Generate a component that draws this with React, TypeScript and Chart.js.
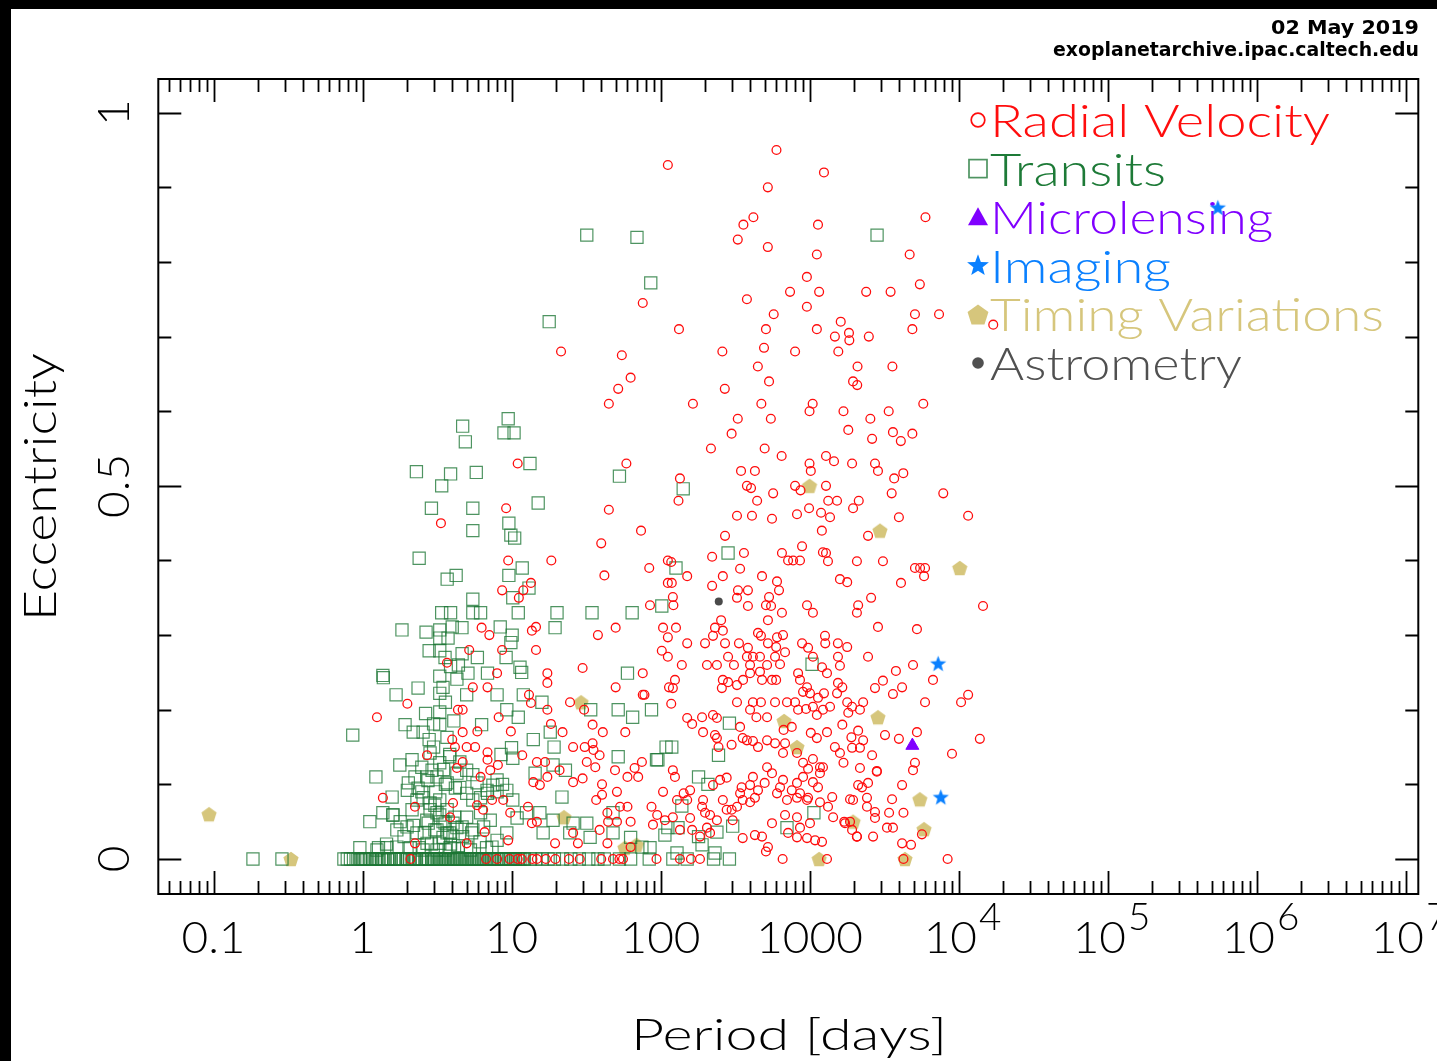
import React, { useEffect, useRef } from 'react';
import { Chart, registerables } from 'chart.js';

Chart.register(...registerables);

// ---------------- data (period [days], eccentricity) ----------------
const radialVelocity: [number, number][] = [
  [112, 0.93], [600, 0.95], [1250, 0.92], [525, 0.90], [6000, 0.86], [360, 0.85], [420, 0.86], [1140, 0.85],
  [330, 0.83], [525, 0.82], [1120, 0.81], [4700, 0.81], [960, 0.78], [740, 0.76], [1160, 0.76], [2400, 0.76],
  [3500, 0.76], [5500, 0.77], [380, 0.75], [960, 0.74], [575, 0.73], [5100, 0.73], [7400, 0.73], [133, 0.71],
  [510, 0.71], [1120, 0.71], [1620, 0.72], [1480, 0.70], [1840, 0.705], [1850, 0.695], [2500, 0.70], [4900, 0.71],
  [260, 0.68], [495, 0.685], [800, 0.68], [1560, 0.68], [450, 0.66], [2100, 0.66], [3600, 0.66], [270, 0.63],
  [535, 0.64], [1960, 0.64], [2090, 0.635], [165, 0.61], [475, 0.61], [1050, 0.61], [1000, 0.60], [1690, 0.60],
  [3400, 0.60], [5800, 0.61], [330, 0.59], [550, 0.59], [2560, 0.59], [300, 0.57], [1820, 0.575], [2630, 0.563],
  [3630, 0.572], [4100, 0.56], [4900, 0.57], [218, 0.55], [500, 0.55], [650, 0.54], [1290, 0.54], [1460, 0.533],
  [1000, 0.53], [1020, 0.52], [1930, 0.53], [2750, 0.53], [2880, 0.52], [347, 0.52], [430, 0.52], [4260, 0.517],
  [3700, 0.51], [135, 0.51], [380, 0.50], [405, 0.497], [800, 0.50], [1290, 0.50], [570, 0.49], [870, 0.494],
  [3560, 0.49], [7900, 0.49], [445, 0.48], [1335, 0.48], [1530, 0.48], [2140, 0.48], [76, 0.745], [17100, 0.716],
  [21.5, 0.68], [55, 0.675], [63, 0.645], [52, 0.63], [45, 0.61], [59, 0.53], [132, 0.48], [45, 0.468],
  [74, 0.44], [40, 0.423], [18.5, 0.40],
  [11, 0.53], [9.2, 0.47], [3.36, 0.45], [42, 0.38], [9.5, 0.40], [84, 0.39], [112, 0.40], [13.5, 0.37],
  [12, 0.36], [11.2, 0.35], [8.65, 0.36], [85, 0.34], [112, 0.37], [6.3, 0.31], [7.1, 0.30], [13.7, 0.306],
  [14.6, 0.311], [14.6, 0.28], [8.65, 0.28], [5.2, 0.28], [3.69, 0.263], [38, 0.30], [50, 0.31], [30, 0.256],
  [8, 0.249], [17.4, 0.249], [17.4, 0.236], [5.5, 0.23], [6.9, 0.23], [2.0, 0.208], [1.25, 0.19], [4.37, 0.20],
  [4.7, 0.20], [8.2, 0.19], [13.1, 0.22], [13.5, 0.209], [17.4, 0.20], [24.7, 0.21], [30.7, 0.20], [50, 0.23],
  [76, 0.249], [76, 0.22], [114, 0.23], [18.4, 0.181], [22, 0.17], [35, 0.18], [41, 0.17], [58, 0.17],
  [4.7, 0.17], [5.9, 0.171], [9.9, 0.171], [4.0, 0.16], [4.17, 0.15], [5.0, 0.15], [5.7, 0.15], [6.9, 0.143],
  [2.71, 0.139], [4.7, 0.13], [4.3, 0.122], [6.9, 0.133], [7.2, 0.119], [6.2, 0.11], [8.1, 0.126],
  [11.8, 0.139], [14.8, 0.13], [16.8, 0.13], [21, 0.119], [25.9, 0.15], [31, 0.15], [35, 0.155], [35.5, 0.146],
  [39, 0.139], [32, 0.13], [36.5, 0.123], [49.5, 0.119], [67, 0.122], [70.8, 0.11], [75, 0.13], [60, 0.11],
  [14, 0.103], [15.5, 0.099], [17.4, 0.11], [25.9, 0.103], [30, 0.108], [40.5, 0.10], [51, 0.09], [40.5, 0.086],
  [37, 0.079], [104, 0.09], [87, 0.07], [95, 0.059], [107, 0.052], [89, 0.046], [63, 0.05], [53.5, 0.07],
  [60, 0.07], [44, 0.062], [44.5, 0.05], [51, 0.05], [39, 0.039], [2.25, 0.07], [4.05, 0.075], [3.87, 0.056],
  [5.87, 0.072], [6.45, 0.066], [7.4, 0.079], [8.8, 0.079], [9.8, 0.062], [12.9, 0.07], [14.8, 0.05], [13.7, 0.048],
  [1.37, 0.082], [2.25, 0.021], [6.6, 0.036], [5.0, 0.021], [9.5, 0.025], [19.6, 0.021], [25.9, 0.035], [27.9, 0.021],
  [44, 0.021], [63, 0.016],
  [2.1, 0], [6.75, 0], [8.0, 0], [9.7, 0], [11, 0], [11.7, 0], [13.8, 0], [14.8, 0], [17, 0], [19.7, 0],
  [24.3, 0], [28.7, 0], [40, 0], [48, 0], [53, 0], [56, 0], [94, 0], [135, 0], [160, 0], [184, 0],
  [510, 0.01], [660, 0], [1310, 0], [4270, 0], [8450, 0],
  [326, 0.46], [411, 0.46], [560, 0.456], [824, 0.462], [993, 0.47], [1195, 0.464], [1373, 0.458], [1960, 0.47],
  [3980, 0.458], [11600, 0.46], [271, 0.433], [1210, 0.44], [2470, 0.433], [363, 0.41], [222, 0.405], [118, 0.398],
  [151, 0.379], [342, 0.389], [262, 0.379], [480, 0.379], [653, 0.41], [718, 0.40], [776, 0.40], [863, 0.40],
  [891, 0.419], [1230, 0.411], [1290, 0.41], [1330, 0.399], [2080, 0.399], [3110, 0.399], [5100, 0.39], [5520, 0.39],
  [5960, 0.39], [5870, 0.379], [1600, 0.375], [1790, 0.371], [4110, 0.37], [222, 0.366], [119, 0.37], [605, 0.372],
  [624, 0.36], [331, 0.36], [386, 0.36], [121, 0.351], [122, 0.34], [326, 0.35], [535, 0.351], [510, 0.34],
  [552, 0.339], [386, 0.339], [962, 0.34], [1054, 0.33], [653, 0.33], [2120, 0.34], [2080, 0.33], [2590, 0.35],
  [14600, 0.339], [526, 0.32], [255, 0.32], [2880, 0.311], [5260, 0.308], [104, 0.31], [127, 0.31], [112, 0.297],
  [232, 0.31], [262, 0.306], [225, 0.299], [451, 0.303], [472, 0.299], [605, 0.297], [664, 0.30], [151, 0.289],
  [199, 0.289], [271, 0.289], [336, 0.289], [386, 0.283], [526, 0.289], [597, 0.284], [891, 0.289], [978, 0.283],
  [1270, 0.299], [1275, 0.289], [1550, 0.289], [1790, 0.284], [102, 0.279], [112, 0.271], [139, 0.26], [205, 0.26],
  [239, 0.26], [284, 0.271], [311, 0.26], [380, 0.271], [417, 0.271], [465, 0.271], [399, 0.26], [465, 0.251],
  [519, 0.26], [587, 0.271], [634, 0.261], [685, 0.277], [838, 0.249], [863, 0.24], [962, 0.23], [1054, 0.271],
  [1213, 0.257], [1310, 0.249], [1552, 0.271], [1600, 0.259], [1552, 0.236], [1660, 0.23], [2470, 0.271], [3800, 0.252],
  [4950, 0.26], [6740, 0.24], [3110, 0.239], [2750, 0.229], [3630, 0.221], [4180, 0.23], [5960, 0.21], [10400, 0.21],
  [11600, 0.22], [121, 0.229], [125, 0.24], [118, 0.208], [78, 0.22], [151, 0.189], [190, 0.19], [225, 0.193],
  [239, 0.189], [163, 0.181], [193, 0.17], [232, 0.166], [239, 0.162], [262, 0.24], [284, 0.237], [326, 0.233],
  [358, 0.24], [399, 0.249], [258, 0.229], [417, 0.21], [472, 0.21], [399, 0.20], [440, 0.19], [326, 0.21],
  [480, 0.24], [560, 0.24], [597, 0.24], [519, 0.19], [587, 0.21], [706, 0.21], [800, 0.21], [838, 0.20],
  [948, 0.201], [905, 0.224], [1007, 0.222], [1140, 0.216], [1250, 0.222], [1054, 0.204], [1120, 0.193], [1231, 0.20],
  [1373, 0.204], [1530, 0.222], [1790, 0.21], [1930, 0.204], [2180, 0.20], [2290, 0.21], [1820, 0.196], [2120, 0.172],
  [1910, 0.163], [1660, 0.18], [1310, 0.17], [1020, 0.169], [1120, 0.162], [760, 0.177], [670, 0.173], [342, 0.177],
  [380, 0.159], [356, 0.162], [245, 0.15], [300, 0.153], [417, 0.158], [451, 0.15], [519, 0.159], [587, 0.155],
  [685, 0.155], [664, 0.142], [824, 0.142], [905, 0.129], [1054, 0.134], [1175, 0.123], [978, 0.121], [1480, 0.15],
  [1600, 0.142], [1690, 0.129], [1930, 0.149], [2180, 0.149], [2290, 0.159], [2630, 0.139], [2180, 0.122], [2830, 0.118],
  [3210, 0.166], [3980, 0.161], [5260, 0.17], [9040, 0.141], [13900, 0.161], [5100, 0.129], [4950, 0.119], [4180, 0.099],
  [3580, 0.08], [3420, 0.062], [3310, 0.042], [3630, 0.042], [4270, 0.062], [5680, 0.033], [4180, 0.021], [4800, 0.019],
  [2750, 0.055], [2670, 0.03], [2080, 0.03], [1870, 0.05], [1710, 0.05], [2430, 0.082], [2470, 0.102], [2250, 0.096],
  [2120, 0.099], [1960, 0.079], [2430, 0.07], [2750, 0.063], [2830, 0.117], [1420, 0.083], [1870, 0.08], [1054, 0.103],
  [1140, 0.096], [1175, 0.115], [1231, 0.123], [905, 0.11], [824, 0.102], [760, 0.092], [863, 0.088], [978, 0.082],
  [664, 0.106], [634, 0.096], [605, 0.088], [706, 0.079], [519, 0.123], [560, 0.115], [500, 0.102], [417, 0.11],
  [399, 0.099], [451, 0.092], [430, 0.082], [399, 0.076], [350, 0.096], [342, 0.088], [356, 0.079], [326, 0.07],
  [300, 0.066], [278, 0.109], [251, 0.106], [225, 0.099], [262, 0.079], [193, 0.079], [190, 0.07], [199, 0.062],
  [215, 0.059], [158, 0.092], [143, 0.088], [129, 0.079], [151, 0.079], [121, 0.119], [125, 0.11], [121, 0.056],
  [135, 0.039], [158, 0.055], [163, 0.039], [184, 0.03], [205, 0.042], [215, 0.035], [239, 0.052], [278, 0.066],
  [305, 0.052], [356, 0.028], [430, 0.032], [480, 0.03], [526, 0.016], [560, 0.048], [685, 0.059], [824, 0.056],
  [863, 0.042], [1007, 0.048], [718, 0.035], [824, 0.029], [962, 0.028], [1090, 0.025], [1213, 0.023], [824, 0.082],
  [962, 0.079], [1175, 0.076], [1331, 0.07], [1440, 0.056], [1730, 0.048], [1930, 0.039], [2080, 0.03],
];

const transits: [number, number][] = [
  [32, 0.836], [69.5, 0.833], [86, 0.772], [17.9, 0.72], [2840, 0.836],
  [9.5, 0.59], [4.7, 0.58], [8.9, 0.571], [10.4, 0.571], [4.9, 0.559], [2.3, 0.519], [3.9, 0.516], [3.4, 0.50],
  [5.8, 0.518], [13.3, 0.53], [2.9, 0.47], [5.5, 0.47], [15.1, 0.477], [5.5, 0.44], [9.6, 0.45], [9.9, 0.434],
  [10.5, 0.43], [53, 0.513], [2.4, 0.403], [4.25, 0.38], [3.7, 0.375], [9.6, 0.38], [11.8, 0.39], [13.1, 0.363],
  [10.2, 0.35], [5.5, 0.348], [3.4, 0.33], [3.9, 0.33], [5.5, 0.33], [6.2, 0.33], [11.1, 0.33], [20.2, 0.33],
  [34.7, 0.33], [64.5, 0.33], [102, 0.339], [1.84, 0.307], [2.67, 0.304], [3.3, 0.307], [3.3, 0.296], [3.75, 0.296],
  [4.0, 0.311], [4.65, 0.31], [8.4, 0.311], [10.1, 0.30], [9.9, 0.29], [19.6, 0.31], [2.8, 0.279], [3.3, 0.279],
  [4.66, 0.275], [3.58, 0.27], [9.2, 0.27], [11.4, 0.257], [11.7, 0.25], [1.37, 0.246], [1.38, 0.243], [3.3, 0.245],
  [4.3, 0.241], [5.1, 0.249], [6.9, 0.249], [2.36, 0.229], [3.47, 0.23], [3.3, 0.222], [1.68, 0.22], [5.0, 0.22],
  [8.0, 0.22], [12, 0.22], [16, 0.21], [52, 0.20], [65, 0.19], [87, 0.20], [34, 0.20], [60, 0.249],
  [9.3, 0.20], [11.1, 0.19], [3.3, 0.197], [3.0, 0.181], [3.3, 0.18], [6.3, 0.18], [1.93, 0.18], [0.86, 0.166],
  [2.19, 0.17], [2.55, 0.17], [3.69, 0.163], [14, 0.16], [18.2, 0.17], [19.3, 0.15], [10, 0.149], [8.5, 0.14],
  [10.2, 0.135], [1.78, 0.126], [2.15, 0.133], [2.5, 0.123], [1.23, 0.11], [2.93, 0.119], [3.16, 0.11], [2.25, 0.11],
  [5.0, 0.119], [5.5, 0.113], [8.0, 0.106], [7.5, 0.099], [8.7, 0.10], [14.4, 0.115], [19, 0.126], [23, 0.119],
  [52, 0.137], [94, 0.133], [109, 0.15], [1.12, 0.05], [1.37, 0.062], [1.6, 0.059], [1.7, 0.039], [1.58, 0.083],
  [2.0, 0.092], [2.32, 0.079], [2.15, 0.066], [2.5, 0.09], [2.84, 0.075], [3.3, 0.079], [3.16, 0.062], [3.7, 0.066],
  [2.7, 0.052], [3.47, 0.05], [4.05, 0.048], [3.16, 0.039], [3.47, 0.029], [3.85, 0.035], [4.3, 0.042],
  [5.0, 0.088], [5.5, 0.079], [6.2, 0.082], [6.9, 0.088], [8, 0.09], [9.3, 0.092], [10.2, 0.079],
  [5, 0.056], [6.2, 0.062], [7.2, 0.052], [10.9, 0.055], [12.6, 0.062], [5.5, 0.039], [6.5, 0.043], [9.3, 0.035],
  [8, 0.025], [15.5, 0.062], [19, 0.052], [16.3, 0.035], [25.9, 0.048], [24.6, 0.035], [32, 0.048], [33.7, 0.029],
  [48, 0.035], [63, 0.029], [75, 0.016], [85, 0.015], [21.8, 0.083], [48, 0.062],
  [1.45, 0.02], [1.9, 0.03], [2.4, 0.015], [2.9, 0.02], [3.6, 0.012], [4.4, 0.018], [5.3, 0.012], [6.8, 0.015],
  [1.28, 0.015], [2.2, 0.045], [2.6, 0.035], [3.9, 0.02], [4.7, 0.03], [3.1, 0.09], [3.6, 0.1], [4.2, 0.095],
  [2.75, 0.105], [4.5, 0.13], [3.85, 0.14], [3.0, 0.15], [2.8, 0.16], [3.5, 0.12], [4.1, 0.185], [3.6, 0.21],
  [2.65, 0.195], [4.4, 0.26], [5.9, 0.27], [3.9, 0.258],
  [2.03, 0.102], [2.36, 0.095], [2.55, 0.082], [3.06, 0.072], [3.3, 0.059], [2.76, 0.048], [3.06, 0.039],
  [3.69, 0.035], [4.05, 0.03], [3.3, 0.021], [2.71, 0.021], [2.32, 0.035], [1.99, 0.043], [1.79, 0.05], [1.6, 0.059],
  [2.84, 0.066], [3.58, 0.048], [4.17, 0.056], [4.66, 0.043], [5.4, 0.035], [6.15, 0.023], [7.4, 0.016], [5.0, 0.016],
  [3.87, 0.015], [3.16, 0.012], [2.55, 0.012], [2.09, 0.015], [1.7, 0.016], [1.46, 0.015], [1.25, 0.012], [0.96, 0.015],
  [2.84, 0.142], [3.3, 0.129], [3.85, 0.137], [4.3, 0.115], [2.7, 0.11], [3.7, 0.102], [4.5, 0.096], [5.87, 0.102],
  [6.85, 0.092],
  [284, 0.41], [127, 0.39], [1040, 0.261], [290, 0.182], [245, 0.139], [119, 0.15], [96, 0.133], [180, 0.11],
  [208, 0.1], [139, 0.071], [112, 0.042], [131, 0.042], [107, 0.032], [129, 0.008], [180, 0.03], [190, 0.019],
  [239, 0.036], [232, 0.008], [305, 0.044], [706, 0.042], [1070, 0.062], [142, 0.496],
  [0.184, 0], [0.288, 0], [0.75, 0], [0.79, 0], [0.83, 0], [0.87, 0], [0.93, 0], [0.97, 0], [1.02, 0], [1.07, 0],
  [1.11, 0], [1.17, 0], [1.22, 0], [1.29, 0], [1.34, 0], [1.41, 0], [1.47, 0], [1.55, 0], [1.62, 0], [1.71, 0],
  [1.78, 0], [1.88, 0], [1.97, 0], [2.08, 0], [2.17, 0], [2.29, 0], [2.41, 0], [2.52, 0], [2.66, 0], [2.78, 0],
  [2.92, 0], [3.05, 0], [3.21, 0], [3.38, 0], [3.52, 0], [3.7, 0], [3.88, 0], [4.08, 0], [4.27, 0], [4.5, 0],
  [4.72, 0], [4.98, 0], [5.25, 0], [5.5, 0], [5.8, 0], [6.1, 0], [6.45, 0], [6.85, 0], [7.3, 0], [7.7, 0],
  [8.2, 0], [8.8, 0], [9.3, 0], [9.9, 0], [10.6, 0], [11.4, 0], [12.2, 0], [13.4, 0], [14.5, 0], [16, 0],
  [17.6, 0], [19.4, 0], [22, 0], [25, 0], [28.5, 0], [33, 0], [38, 0], [42, 0], [53, 0], [63, 0],
  [84, 0], [121, 0], [151, 0], [227, 0], [290, 0],
  [0.99, 0], [1.04, 0], [1.14, 0], [1.25, 0], [1.37, 0], [1.5, 0], [1.66, 0], [1.83, 0], [2.01, 0], [2.23, 0],
  [2.47, 0], [2.72, 0], [2.98, 0], [3.13, 0], [3.3, 0], [3.45, 0], [3.6, 0], [3.78, 0], [3.98, 0], [4.17, 0],
  [4.38, 0], [4.6, 0], [4.85, 0], [5.1, 0], [5.4, 0], [5.65, 0], [5.95, 0], [6.3, 0], [6.65, 0], [7.1, 0],
  [7.5, 0], [8.0, 0], [8.5, 0], [9.0, 0], [9.6, 0], [10.3, 0], [11.0, 0], [11.8, 0],
];

const microlensing: [number, number][] = [[4900, 0.152]];
const imaging: [number, number][] = [[550000, 0.872], [7300, 0.261], [7600, 0.082]];
const timingVariations: [number, number][] = [
  [0.0933, 0.06], [0.331, 0.0], [29.3, 0.21], [22.5, 0.056], [57.7, 0.015], [69, 0.019], [1000, 0.50],
  [2970, 0.44], [10200, 0.39], [675, 0.185], [824, 0.15], [2880, 0.19], [5500, 0.08], [5870, 0.04],
  [1960, 0.05], [1160, 0.0], [4370, 0.0],
];
const astrometry: [number, number][] = [[246, 0.345]];

// ---------------- axis labels ----------------
const xTickValues = [0.1, 1, 10, 100, 1000, 1e4, 1e5, 1e6, 1e7];
const xTickBase = ['0.1', '1', '10', '100', '1000', '10', '10', '10', '10'];
const xTickExp = ['', '', '', '', '', '4', '5', '6', '7'];
const yTickValues = [0, 0.5, 1];
const yTickLabels = ['0', '0.5', '1'];
const xTitle = 'Period [days]';
const yTitle = 'Eccentricity';
const dateText = '02 May 2019';
const siteText = 'exoplanetarchive.ipac.caltech.edu';
const legendLabels = ['Radial Velocity', 'Transits', 'Microlensing', 'Imaging', 'Timing Variations', 'Astrometry'];

// ---------------- styles ----------------
const X_MIN = 0.04261;
const X_MAX = 1.218e7;
const Y_MIN = -0.0469;
const Y_MAX = 1.0452;

const RED = '#ff0d0d';
const GREEN_TEXT = '#1d7a37';
const GREEN_PT = 'rgba(28,118,52,0.78)';
const PURPLE = '#8000ff';
const BLUE = '#0a80ff';
const KHAKI = '#d6c67c';
const GRAY = '#505050';
const legendColors = [RED, GREEN_TEXT, PURPLE, BLUE, KHAKI, GRAY];
const legendMarkers = ['circle', 'square', 'triangle', 'star', 'pentagon', 'dot'];
const legendWidths = [340, 176, 283, 181, 394, 252];

const CW = 1426;
const CH = 1052;
const LIGHT_FONT = 'Lato, "Open Sans", "DejaVu Sans", sans-serif';
const HEAD_FONT = '"DejaVu Sans", "Liberation Sans", sans-serif';

function starPath(ctx: CanvasRenderingContext2D, cx: number, cy: number, r: number) {
  ctx.beginPath();
  for (let i = 0; i < 10; i++) {
    const a = -Math.PI / 2 + (i * Math.PI) / 5;
    const rr = i % 2 === 0 ? r : r * 0.42;
    const px = cx + rr * Math.cos(a);
    const py = cy + rr * Math.sin(a);
    if (i === 0) ctx.moveTo(px, py);
    else ctx.lineTo(px, py);
  }
  ctx.closePath();
}

function pentagonPath(ctx: CanvasRenderingContext2D, cx: number, cy: number, r: number) {
  ctx.beginPath();
  for (let i = 0; i < 5; i++) {
    const a = -Math.PI / 2 + (i * 2 * Math.PI) / 5;
    const px = cx + r * Math.cos(a);
    const py = cy + r * Math.sin(a) + r * 0.1;
    if (i === 0) ctx.moveTo(px, py);
    else ctx.lineTo(px, py);
  }
  ctx.closePath();
}

function makeMarker(kind: 'star' | 'pentagon', r: number, color: string) {
  const size = Math.ceil(r * 2) + 2;
  const c = document.createElement('canvas');
  c.width = size;
  c.height = size;
  const g = c.getContext('2d') as CanvasRenderingContext2D;
  g.fillStyle = color;
  if (kind === 'star') starPath(g, size / 2, size / 2, r);
  else pentagonPath(g, size / 2, size / 2, r);
  g.fill();
  return c;
}

function fitText(
  ctx: CanvasRenderingContext2D, text: string, x: number, y: number,
  font: string, width: number, align: CanvasTextAlign,
) {
  ctx.save();
  ctx.font = font;
  const w = ctx.measureText(text).width || 1;
  ctx.translate(x, y);
  ctx.scale(width / w, 1);
  ctx.textAlign = align;
  ctx.textBaseline = 'alphabetic';
  ctx.fillText(text, 0, 0);
  ctx.restore();
}

function drawLegendMarker(ctx: CanvasRenderingContext2D, kind: string, x: number, y: number, color: string) {
  ctx.save();
  ctx.fillStyle = color;
  ctx.strokeStyle = color;
  if (kind === 'circle') {
    ctx.lineWidth = 1.7;
    ctx.beginPath();
    ctx.arc(x, y, 6.8, 0, Math.PI * 2);
    ctx.stroke();
  } else if (kind === 'square') {
    ctx.lineWidth = 1.7;
    ctx.strokeStyle = GREEN_PT;
    ctx.strokeRect(x - 9, y - 9, 18, 18);
  } else if (kind === 'triangle') {
    ctx.beginPath();
    ctx.moveTo(x, y - 10);
    ctx.lineTo(x + 10, y + 8);
    ctx.lineTo(x - 10, y + 8);
    ctx.closePath();
    ctx.fill();
  } else if (kind === 'star') {
    starPath(ctx, x, y, 11.5);
    ctx.fill();
  } else if (kind === 'pentagon') {
    pentagonPath(ctx, x, y, 11);
    ctx.fill();
  } else {
    ctx.beginPath();
    ctx.arc(x, y, 5.8, 0, Math.PI * 2);
    ctx.fill();
  }
  ctx.restore();
}

const decorPlugin = {
  id: 'decor',
  beforeDatasetsDraw(chart: any) {
    const ctx: CanvasRenderingContext2D = chart.ctx;
    legendLabels.forEach((label, i) => {
      const base = 128 + 48.6 * i;
      drawLegendMarker(ctx, legendMarkers[i], 967, base - 17, legendColors[i]);
      ctx.fillStyle = legendColors[i];
      fitText(ctx, label, 979, base, `300 45px ${LIGHT_FONT}`, legendWidths[i], 'left');
    });
  },
  afterDatasetsDraw(chart: any) {
    const ctx: CanvasRenderingContext2D = chart.ctx;
    const { left, right, top, bottom } = chart.chartArea;
    const xs = chart.scales.x;
    const ys = chart.scales.y;
    ctx.save();
    ctx.strokeStyle = '#000';
    ctx.fillStyle = '#000';
    ctx.lineWidth = 2;
    ctx.strokeRect(left, top, right - left, bottom - top);

    // x ticks (log, major + minor), top and bottom, inward
    ctx.lineWidth = 1.8;
    ctx.beginPath();
    for (let k = -2; k <= 7; k++) {
      for (let m = 1; m <= 9; m++) {
        const v = m * Math.pow(10, k);
        if (v < X_MIN || v > X_MAX) continue;
        const px = Math.round(xs.getPixelForValue(v)) + 0.5;
        const len = m === 1 ? 23 : 13;
        ctx.moveTo(px, bottom);
        ctx.lineTo(px, bottom - len);
        ctx.moveTo(px, top);
        ctx.lineTo(px, top + len);
      }
    }
    // y ticks every 0.1, left and right, inward
    for (let i = 0; i <= 10; i++) {
      const py = Math.round(ys.getPixelForValue(i / 10)) + 0.5;
      const len = i % 5 === 0 ? 23 : 13;
      ctx.moveTo(left, py);
      ctx.lineTo(left + len, py);
      ctx.moveTo(right, py);
      ctx.lineTo(right - len, py);
    }
    ctx.stroke();

    // numeric tick labels: horizontal scale fitted so that "100" is 80px wide
    const baseFont = `300 44px ${LIGHT_FONT}`;
    const expFont = `300 37px ${LIGHT_FONT}`;
    ctx.font = baseFont;
    const numScale = 80 / (ctx.measureText('100').width || 80);
    ctx.textBaseline = 'alphabetic';
    ctx.textAlign = 'left';
    xTickValues.forEach((v, i) => {
      const px = xs.getPixelForValue(v);
      ctx.font = baseFont;
      const wb = ctx.measureText(xTickBase[i]).width * numScale;
      let we = 0;
      if (xTickExp[i]) {
        ctx.font = expFont;
        we = ctx.measureText(xTickExp[i]).width * numScale + 2;
      }
      const x0 = px - (wb + we) / 2 + (xTickExp[i] ? 4 : 0);
      ctx.save();
      ctx.translate(x0, 944);
      ctx.scale(numScale, 1);
      ctx.font = baseFont;
      ctx.fillText(xTickBase[i], 0, 0);
      ctx.restore();
      if (xTickExp[i]) {
        ctx.save();
        ctx.translate(x0 + wb + 2, 921);
        ctx.scale(numScale, 1);
        ctx.font = expFont;
        ctx.fillText(xTickExp[i], 0, 0);
        ctx.restore();
      }
    });

    // y tick labels (rotated)
    yTickValues.forEach((v, i) => {
      const py = ys.getPixelForValue(v);
      ctx.save();
      ctx.translate(118, py);
      ctx.rotate(-Math.PI / 2);
      ctx.scale(numScale, 1);
      ctx.font = baseFont;
      ctx.textAlign = 'center';
      ctx.fillText(yTickLabels[i], 0, 0);
      ctx.restore();
    });

    // axis titles
    fitText(ctx, xTitle, 778, 1041, `300 44px ${LIGHT_FONT}`, 316, 'center');
    ctx.save();
    ctx.translate(45, 478);
    ctx.rotate(-Math.PI / 2);
    fitText(ctx, yTitle, 0, 0, `300 45px ${LIGHT_FONT}`, 268, 'center');
    ctx.restore();

    // header text
    fitText(ctx, dateText, 1408, 25, `bold 19px ${HEAD_FONT}`, 148, 'right');
    fitText(ctx, siteText, 1408, 47, `bold 19px ${HEAD_FONT}`, 366, 'right');
    ctx.restore();
  },
};

const toPts = (arr: [number, number][]) => arr.map(([x, y]) => ({ x, y }));

export default function App() {
  const ref = useRef<HTMLCanvasElement | null>(null);

  useEffect(() => {
    if (!ref.current) return;
    const pentagonImg = makeMarker('pentagon', 8, KHAKI);
    const starImg = makeMarker('star', 8.5, BLUE);
    const chart = new Chart(ref.current, {
      type: 'scatter',
      data: {
        datasets: [
          {
            label: 'Microlensing', data: toPts(microlensing), pointStyle: 'triangle', pointRadius: 7.5,
            backgroundColor: PURPLE, borderColor: PURPLE, borderWidth: 1, order: 0,
          },
          {
            label: 'Imaging', data: toPts(imaging), pointStyle: starImg as any, pointRadius: 8, order: 0,
          },
          {
            label: 'Astrometry', data: toPts(astrometry), pointStyle: 'circle', pointRadius: 4,
            backgroundColor: '#4a4a4a', borderColor: '#4a4a4a', borderWidth: 0, order: 0,
          },
          {
            label: 'Radial Velocity', data: toPts(radialVelocity), pointStyle: 'circle', pointRadius: 4.4,
            backgroundColor: 'rgba(0,0,0,0)', borderColor: RED, borderWidth: 1.3, order: 1,
          },
          {
            label: 'Transits', data: toPts(transits), pointStyle: 'rect', pointRadius: 8.6,
            backgroundColor: 'rgba(0,0,0,0)', borderColor: GREEN_PT, borderWidth: 1.2, order: 2,
          },
          {
            label: 'Timing Variations', data: toPts(timingVariations), pointStyle: pentagonImg as any,
            pointRadius: 8, order: 3,
          },
        ],
      },
      options: {
        animation: false,
        responsive: false,
        devicePixelRatio: 1,
        events: [],
        layout: { padding: { left: 147.3, right: 18.7, top: 70, bottom: 167 } },
        plugins: { legend: { display: false }, tooltip: { enabled: false } },
        scales: {
          x: { type: 'logarithmic', min: X_MIN, max: X_MAX, display: false, bounds: 'data' },
          y: { type: 'linear', min: Y_MIN, max: Y_MAX, display: false, bounds: 'data' },
        },
      } as any,
      plugins: [decorPlugin as any],
    });
    return () => chart.destroy();
  }, []);

  return (
    <div style={{ position: 'fixed', left: 0, top: 0, width: 1437, height: 1061, background: '#000' }}>
      <div style={{ position: 'absolute', left: 11, top: 9, width: CW, height: CH, background: '#fff' }}>
        <canvas ref={ref} width={CW} height={CH} style={{ display: 'block', width: CW, height: CH }} />
      </div>
    </div>
  );
}
